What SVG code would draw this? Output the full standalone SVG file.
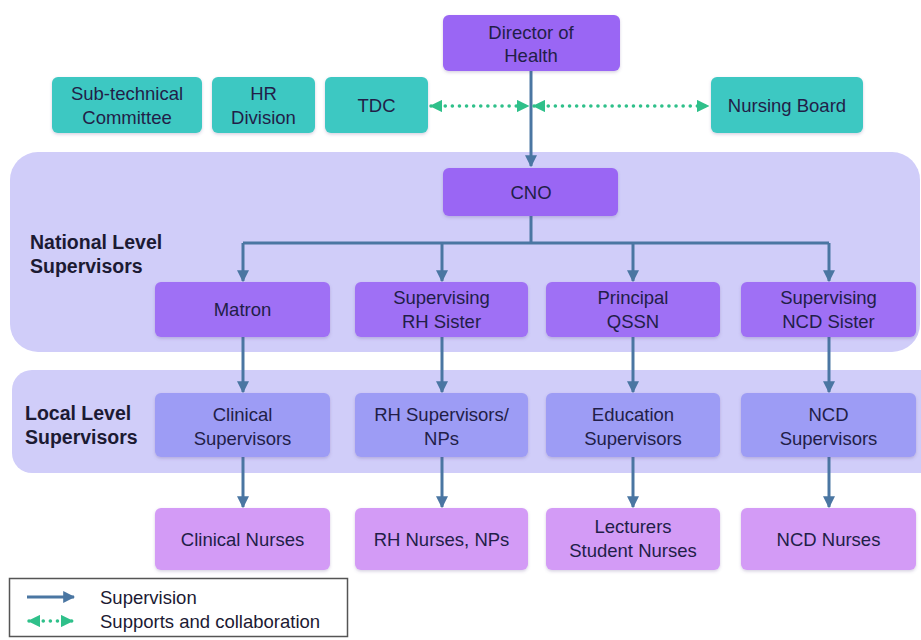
<svg xmlns="http://www.w3.org/2000/svg" width="921" height="640" viewBox="0 0 921 640">
  <defs>
    <style>
      text { font-family: "Liberation Sans", Arial, sans-serif; font-size: 18.5px; fill: #221e48; text-anchor: middle; }
      .lbl { font-weight: bold; font-size: 19.5px; text-anchor: start; fill: #1c1a33; }
      .leg { text-anchor: start; fill: #1c1a33; }
      .band { fill: #d0cdf9; }
      .top { fill: #9a66f4; }
      .nat { fill: #9f6ff5; }
      .loc { fill: #9d9cf5; }
      .nur { fill: #d39bf6; }
      .teal { fill: #3ec8c2; }
      .sup { stroke: #4a76a2; stroke-width: 3; fill: none; }
      .col { stroke: #2fc08a; stroke-width: 3.5; fill: none; stroke-dasharray: 0.1 7; stroke-linecap: round; }
      .node rect { filter: url(#soft); }
    </style>
    <filter id="soft" x="-10%" y="-10%" width="120%" height="130%">
      <feDropShadow dx="0" dy="1.5" stdDeviation="1.5" flood-color="#5a4a8a" flood-opacity="0.25"/>
    </filter>
    <marker id="ah" viewBox="0 0 10 10" refX="9" refY="5" markerWidth="4" markerHeight="4" orient="auto">
      <path d="M0,0 L10,5 L0,10 z" fill="#4a76a2"/>
    </marker>
    <marker id="gh" viewBox="0 0 10 10" refX="9" refY="5" markerWidth="3.6" markerHeight="3.6" orient="auto-start-reverse">
      <path d="M0,0 L10,5 L0,10 z" fill="#2fc08a"/>
    </marker>
  </defs>

  <rect width="921" height="640" fill="#ffffff"/>

  <!-- level bands -->
  <g id="national-band">
    <rect class="band" x="10" y="152" width="910" height="200" rx="28"/>
    <text class="lbl" x="30" y="249">National Level</text>
    <text class="lbl" x="30" y="273">Supervisors</text>
  </g>
  <g id="local-band">
    <rect class="band" x="12" y="370" width="930" height="103" rx="20"/>
    <text class="lbl" x="25" y="420">Local Level</text>
    <text class="lbl" x="25" y="444">Supervisors</text>
  </g>

  <!-- connectors -->
  <g id="connectors">
    <path class="sup" d="M531,71 V166" marker-end="url(#ah)"/>
    <path class="sup" d="M531,216 V243 M243,243 H829"/>
    <path class="sup" d="M243,243 V281" marker-end="url(#ah)"/>
    <path class="sup" d="M442,243 V281" marker-end="url(#ah)"/>
    <path class="sup" d="M633,243 V281" marker-end="url(#ah)"/>
    <path class="sup" d="M829,243 V281" marker-end="url(#ah)"/>
    <path class="sup" d="M243,337 V392" marker-end="url(#ah)"/>
    <path class="sup" d="M442,337 V392" marker-end="url(#ah)"/>
    <path class="sup" d="M633,337 V392" marker-end="url(#ah)"/>
    <path class="sup" d="M829,337 V392" marker-end="url(#ah)"/>
    <path class="sup" d="M243,457 V507" marker-end="url(#ah)"/>
    <path class="sup" d="M442,457 V507" marker-end="url(#ah)"/>
    <path class="sup" d="M633,457 V507" marker-end="url(#ah)"/>
    <path class="sup" d="M829,457 V507" marker-end="url(#ah)"/>
    <path class="col" d="M431,106 H528" marker-start="url(#gh)" marker-end="url(#gh)"/>
    <path class="col" d="M534,106 H708" marker-start="url(#gh)" marker-end="url(#gh)"/>
  </g>

  <!-- top level -->
  <g id="director" class="node">
    <rect class="top" x="443" y="15" width="177" height="56" rx="6"/>
    <text x="531" y="39">Director of</text>
    <text x="531" y="62">Health</text>
  </g>
  <g id="subtechnical" class="node">
    <rect class="teal" x="52" y="77" width="150" height="56" rx="6"/>
    <text x="127" y="100">Sub-technical</text>
    <text x="127" y="124">Committee</text>
  </g>
  <g id="hr-division" class="node">
    <rect class="teal" x="212" y="77" width="103" height="56" rx="6"/>
    <text x="263.5" y="100">HR</text>
    <text x="263.5" y="124">Division</text>
  </g>
  <g id="tdc" class="node">
    <rect class="teal" x="325" y="77" width="103" height="56" rx="6"/>
    <text x="376.5" y="112">TDC</text>
  </g>
  <g id="nursing-board" class="node">
    <rect class="teal" x="711" y="77" width="152" height="56" rx="6"/>
    <text x="787" y="112">Nursing Board</text>
  </g>
  <g id="cno" class="node">
    <rect class="top" x="443" y="168" width="175" height="48" rx="6"/>
    <text x="531" y="199">CNO</text>
  </g>

  <!-- national level -->
  <g id="matron" class="node">
    <rect class="nat" x="155" y="282" width="175" height="55" rx="6"/>
    <text x="242.5" y="316">Matron</text>
  </g>
  <g id="rh-sister" class="node">
    <rect class="nat" x="355" y="282" width="173" height="55" rx="6"/>
    <text x="441.5" y="304">Supervising</text>
    <text x="441.5" y="328">RH Sister</text>
  </g>
  <g id="qssn" class="node">
    <rect class="nat" x="546" y="282" width="174" height="55" rx="6"/>
    <text x="633" y="304">Principal</text>
    <text x="633" y="328">QSSN</text>
  </g>
  <g id="ncd-sister" class="node">
    <rect class="nat" x="741" y="282" width="175" height="55" rx="6"/>
    <text x="828.5" y="304">Supervising</text>
    <text x="828.5" y="328">NCD Sister</text>
  </g>

  <!-- local level -->
  <g id="clinical-supervisors" class="node">
    <rect class="loc" x="155" y="393" width="175" height="64" rx="6"/>
    <text x="242.5" y="421">Clinical</text>
    <text x="242.5" y="445">Supervisors</text>
  </g>
  <g id="rh-supervisors" class="node">
    <rect class="loc" x="355" y="393" width="173" height="64" rx="6"/>
    <text x="441.5" y="421">RH Supervisors/</text>
    <text x="441.5" y="445">NPs</text>
  </g>
  <g id="education-supervisors" class="node">
    <rect class="loc" x="546" y="393" width="174" height="64" rx="6"/>
    <text x="633" y="421">Education</text>
    <text x="633" y="445">Supervisors</text>
  </g>
  <g id="ncd-supervisors" class="node">
    <rect class="loc" x="741" y="393" width="175" height="64" rx="6"/>
    <text x="828.5" y="421">NCD</text>
    <text x="828.5" y="445">Supervisors</text>
  </g>

  <!-- nurses -->
  <g id="clinical-nurses" class="node">
    <rect class="nur" x="155" y="508" width="175" height="62" rx="6"/>
    <text x="242.5" y="546">Clinical Nurses</text>
  </g>
  <g id="rh-nurses" class="node">
    <rect class="nur" x="355" y="508" width="173" height="62" rx="6"/>
    <text x="441.5" y="546">RH Nurses, NPs</text>
  </g>
  <g id="lecturers" class="node">
    <rect class="nur" x="546" y="508" width="174" height="62" rx="6"/>
    <text x="633" y="533">Lecturers</text>
    <text x="633" y="557">Student Nurses</text>
  </g>
  <g id="ncd-nurses" class="node">
    <rect class="nur" x="741" y="508" width="175" height="62" rx="6"/>
    <text x="828.5" y="546">NCD Nurses</text>
  </g>

  <!-- legend -->
  <g id="legend">
    <rect x="9.5" y="578.5" width="338" height="58" fill="#ffffff" stroke="#555555" stroke-width="1.5"/>
    <path class="sup" d="M27,597 H74" marker-end="url(#ah)"/>
    <path class="col" d="M29,621 H72" marker-start="url(#gh)" marker-end="url(#gh)"/>
    <text class="leg" x="100" y="604">Supervision</text>
    <text class="leg" x="100" y="628">Supports and collaboration</text>
  </g>
</svg>
